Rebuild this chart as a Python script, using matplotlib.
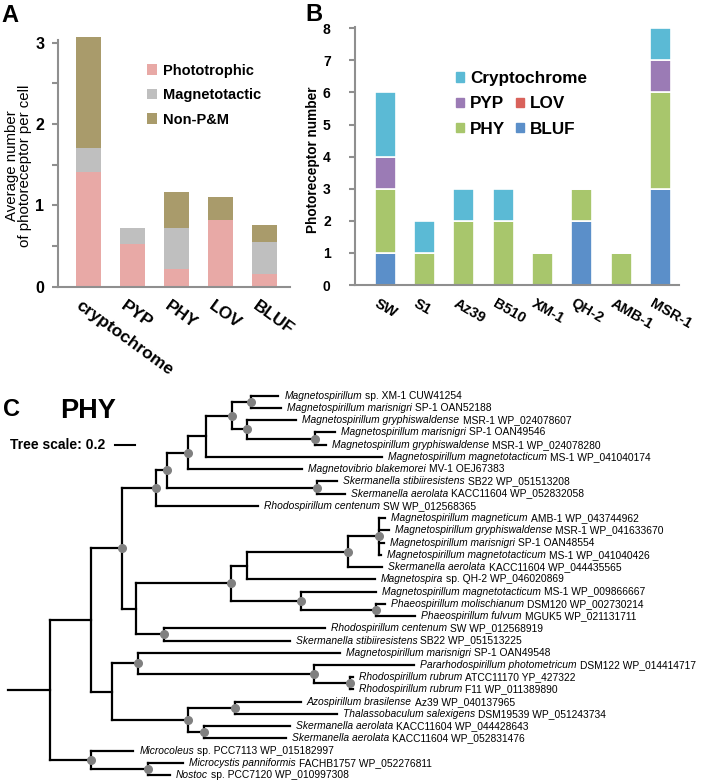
import matplotlib
matplotlib.use('Agg')
import matplotlib.pyplot as plt
import matplotlib.transforms as mtransforms
from matplotlib.patches import Patch
from matplotlib.collections import LineCollection

plt.rcParams['font.family'] = ['Liberation Sans', 'DejaVu Sans']

# ---- panel A data
categories_a = ['cryptochrome', 'PYP', 'PHY', 'LOV', 'BLUF']
groups_a = ['Phototrophic', 'Magnetotactic', 'Non-P&M']
phototrophic = [1.41, 0.525, 0.22, 0.82, 0.156]
magnetotactic = [0.30, 0.195, 0.505, 0.0, 0.40]
non_pm = [1.36, 0.0, 0.44, 0.28, 0.20]
colors_a = ['#e8a9a6', '#bfbfbf', '#a99b6b']

# ---- panel B data
strains = ['SW', 'S1', 'Az39', 'B510', 'XM-1', 'QH-2', 'AMB-1', 'MSR-1']
groups_b = ['BLUF', 'LOV', 'PHY', 'PYP', 'Cryptochrome']
bluf = [1, 0, 0, 0, 0, 2, 0, 3]
lov = [0, 0, 0, 0, 0, 0, 0, 0]
phy = [2, 1, 2, 2, 1, 1, 1, 3]
pyp = [1, 0, 0, 0, 0, 0, 0, 1]
crypto = [2, 1, 1, 1, 0, 0, 0, 1]
colors_b = ['#5b8fc9', '#d9625b', '#a8c66c', '#9b7bb5', '#5bbad5']

# ---- panel C data: PHY tree, leaves numbered top to bottom,
# '+' marks nodes drawn with a support dot, lengths in tree units
tree_newick = (
    "((((((("
    "((0:0.272,1:0.303)+:0.194,"
    "(2:0.498,(3:0.194,4:0.104)+:0.688)+:0.149)+:0.258,"
    "5:1.765):0.181,"
    "6:1.145)+:0.204,"
    "(7:0.204,8:0.281)+:1.493)+:0.113,"
    "9:1.018)+:0.339,"
    "(((((10:0.062,11:0.094,12:0.048,13:0.017)+:0.308,14:0.338)+:1.018,15:1.281):0.158,"
    "(16:0.747,(17:0.09,18:0.398)+:0.747)+:0.701)+:0.951,"
    "(19:1.606,20:1.253)+:0.286):0.135)+:0.312,"
    "((21:2.023,(22:0.995,(23:0.032,24:0.032)+:0.353)+:1.765)+:0.263,"
    "((25:0.656,26:1.018)+:0.475,(27:0.86,28:0.824)+:0.158)+:0.761):0.207):0.41,"
    "(29:0.423,(30:0.35,31:0.217)+:0.573)+:0.41):0.417;"
)
leaf_species = [
    'Magnetospirillum', 'Magnetospirillum marisnigri',
    'Magnetospirillum gryphiswaldense', 'Magnetospirillum marisnigri',
    'Magnetospirillum gryphiswaldense', 'Magnetospirillum magnetotacticum',
    'Magnetovibrio blakemorei', 'Skermanella stibiiresistens',
    'Skermanella aerolata', 'Rhodospirillum centenum',
    'Magnetospirillum magneticum', 'Magnetospirillum gryphiswaldense',
    'Magnetospirillum marisnigri', 'Magnetospirillum magnetotacticum',
    'Skermanella aerolata', 'Magnetospira',
    'Magnetospirillum magnetotacticum', 'Phaeospirillum molischianum',
    'Phaeospirillum fulvum', 'Rhodospirillum centenum',
    'Skermanella stibiiresistens', 'Magnetospirillum marisnigri',
    'Pararhodospirillum photometricum', 'Rhodospirillum rubrum',
    'Rhodospirillum rubrum', 'Azospirillum brasilense',
    'Thalassobaculum salexigens', 'Skermanella aerolata',
    'Skermanella aerolata', 'Microcoleus',
    'Microcystis panniformis', 'Nostoc',
]
leaf_ids = [
    'sp. XM-1 CUW41254', 'SP-1 OAN52188', 'MSR-1 WP_024078607',
    'SP-1 OAN49546', 'MSR-1 WP_024078280', 'MS-1 WP_041040174',
    'MV-1 OEJ67383', 'SB22 WP_051513208', 'KACC11604 WP_052832058',
    'SW WP_012568365', 'AMB-1 WP_043744962', 'MSR-1 WP_041633670',
    'SP-1 OAN48554', 'MS-1 WP_041040426', 'KACC11604 WP_044435565',
    'sp. QH-2 WP_046020869', 'MS-1 WP_009866667', 'DSM120 WP_002730214',
    'MGUK5 WP_021131711', 'SW WP_012568919', 'SB22 WP_051513225',
    'SP-1 OAN49548', 'DSM122 WP_014414717', 'ATCC11170 YP_427322',
    'F11 WP_011389890', 'Az39 WP_040137965', 'DSM19539 WP_051243734',
    'KACC11604 WP_044428643', 'KACC11604 WP_052831476',
    'sp. PCC7113 WP_015182997', 'FACHB1757 WP_052276811',
    'sp. PCC7120 WP_010997308',
]
tree_scale = 0.2

W, H = 709, 781
fig = plt.figure(figsize=(W / 100, H / 100), dpi=100)
axis_gray = '#8f8f8f'


def box(left, top, right, bottom):
    # pixel box (from top-left) -> figure fraction rect
    return [left / W, 1 - bottom / H, (right - left) / W, (bottom - top) / H]


def fxy(x, y):
    return (x / W, 1 - y / H)


def style_axis(ax):
    for s in ['top', 'right']:
        ax.spines[s].set_visible(False)
    for s in ['left', 'bottom']:
        ax.spines[s].set_color(axis_gray)
        ax.spines[s].set_linewidth(1.5)


def shift_labels(labels, dx_px, dy_px=0):
    off = mtransforms.ScaledTranslation(dx_px / 100, dy_px / 100, fig.dpi_scale_trans)
    for lbl in labels:
        lbl.set_transform(lbl.get_transform() + off)


# ================= A
ax_a = fig.add_axes(box(58, 40, 290, 286.7))
xa = list(range(len(categories_a)))
bottom = [0] * len(xa)
for vals, col, lab in zip([phototrophic, magnetotactic, non_pm], colors_a, groups_a):
    ax_a.bar(xa, vals, 0.57, bottom=bottom, color=col, label=lab, clip_on=False)
    bottom = [b + v for b, v in zip(bottom, vals)]
ax_a.set_xlim(-0.69, 4.57)
ax_a.set_ylim(0, 3.035)
style_axis(ax_a)
ax_a.set_yticks([0, 1, 2, 3])
ax_a.set_yticks([0.5, 1.5, 2.5], minor=True)
ax_a.tick_params(axis='y', which='both', length=4, width=1.5, color=axis_gray, pad=6,
                 labelsize=11.5)
for lbl in ax_a.get_yticklabels():
    lbl.set_fontweight('bold')
ax_a.set_xticks(xa)
ax_a.set_xticklabels(categories_a, rotation=-36, ha='left', va='top', rotation_mode='anchor',
                     fontsize=12.5, fontweight='bold')
ax_a.tick_params(axis='x', length=0, pad=8)
shift_labels(ax_a.get_xticklabels(), -6)
ax_a.set_ylabel('Average number\nof photoreceptor per cell', fontsize=10.8, linespacing=0.95,
                va='center')
ax_a.yaxis.set_label_coords((18.3 - 58) / 232, (286.7 - 166) / 246.7)
ax_a.legend(loc='upper left', bbox_to_anchor=fxy(147, 63.5), bbox_transform=fig.transFigure,
            frameon=False, prop=dict(weight='bold', size=10.5), handlelength=0.7,
            handleheight=0.7, handletextpad=0.42, labelspacing=0.72, borderpad=0,
            borderaxespad=0)

# ================= B
ax_b = fig.add_axes(box(355, 26.7, 679.3, 285))
xb = list(range(len(strains)))
bottom = [0] * len(xb)
for vals, col, lab in zip([bluf, lov, phy, pyp, crypto], colors_b, groups_b):
    ax_b.bar(xb, vals, 0.53, bottom=bottom, color=col, edgecolor='white', linewidth=1.2,
             label=lab, clip_on=False)
    bottom = [b + v for b, v in zip(bottom, vals)]
ax_b.set_xlim(-0.77, 7.48)
ax_b.set_ylim(0, 8.05)
style_axis(ax_b)
ax_b.set_yticks(range(9))
ax_b.tick_params(axis='y', length=4, width=1.5, color=axis_gray, pad=13.5, labelsize=10)
for lbl in ax_b.get_yticklabels():
    lbl.set_fontweight('bold')
ax_b.set_xticks(xb)
ax_b.set_xticklabels(strains, rotation=-30, ha='left', va='top', rotation_mode='anchor',
                     fontsize=10.5, fontweight='bold')
ax_b.tick_params(axis='x', length=0, pad=8)
shift_labels(ax_b.get_xticklabels(), -6)
ax_b.set_ylabel('Photoreceptor number', fontsize=9.8, fontweight='bold', va='center')
ax_b.yaxis.set_label_coords((313 - 355) / 324.3, (285 - 160) / 258.3)

patch = {g: Patch(color=c) for g, c in zip(groups_b, colors_b)}
leg_kw = dict(bbox_transform=fig.transFigure, loc='upper left', frameon=False,
              prop=dict(weight='bold', size=12.3), handlelength=0.45, handleheight=0.45,
              handletextpad=0.38, labelspacing=0.6, borderpad=0, borderaxespad=0)
col1 = ['Cryptochrome', 'PYP', 'PHY']
col2 = ['LOV', 'BLUF']
leg1 = ax_b.legend([patch[g] for g in col1], col1, bbox_to_anchor=fxy(456, 71), **leg_kw)
ax_b.add_artist(leg1)
ax_b.legend([patch[g] for g in col2], col2, bbox_to_anchor=fxy(516, 96.5), **leg_kw)

fig.text(*fxy(1.7, 21.7), 'A', fontsize=17, fontweight='bold', va='baseline')
fig.text(*fxy(305, 20.7), 'B', fontsize=17, fontweight='bold', va='baseline')


# ================= C
def parse_newick(s):
    pos = 0

    def node():
        nonlocal pos
        n = {'children': [], 'name': None, 'len': 0.0, 'support': False}
        if s[pos] == '(':
            pos += 1
            while True:
                n['children'].append(node())
                if s[pos] == ',':
                    pos += 1
                    continue
                pos += 1
                break
            if s[pos] == '+':
                n['support'] = True
                pos += 1
        else:
            j = pos
            while s[pos] not in ':,);':
                pos += 1
            n['name'] = int(s[j:pos])
        if s[pos] == ':':
            pos += 1
            j = pos
            while s[pos] not in ',);':
                pos += 1
            n['len'] = float(s[j:pos])
        return n

    return node()


def layout(n, x0):
    n['x'] = x0 + n['len']
    if n['name'] is not None:
        n['y'] = n['name']
    else:
        for c in n['children']:
            layout(c, n['x'])
        n['y'] = (n['children'][0]['y'] + n['children'][-1]['y']) / 2


ax_c = fig.add_axes(box(0, 380, 709, 781))
ax_c.set_xlim(0, W / 100)
ax_c.set_ylim((781 - 395.7) / 12.24, (380 - 395.7) / 12.24)
ax_c.axis('off')

tree = parse_newick(tree_newick)
origin = 0.083
layout(tree, origin)

segs, dots, leaves = [], [], []
segs.append([(origin, tree['y']), (tree['x'], tree['y'])])
stack = [tree]
while stack:
    n = stack.pop()
    if n['name'] is not None:
        leaves.append(n)
        continue
    segs.append([(n['x'], n['children'][0]['y']), (n['x'], n['children'][-1]['y'])])
    for c in n['children']:
        segs.append([(n['x'], c['y']), (c['x'], c['y'])])
        stack.append(c)
    if n['support']:
        dots.append((n['x'], n['y']))

ax_c.add_collection(LineCollection(segs, colors='black', linewidths=1.6,
                                   capstyle='projecting'))
ax_c.plot([d[0] for d in dots], [d[1] for d in dots], 'o', color='#808080', ms=5.5,
          zorder=3)

for lf in leaves:
    i = lf['name']
    t = ax_c.text(lf['x'] + 0.06, i, leaf_species[i], style='italic', fontsize=7.4,
                  va='center')
    ax_c.annotate(leaf_ids[i], xy=(1, 0.5), xycoords=t, xytext=(2.2, 0),
                  textcoords='offset points', fontsize=7.4, va='center')

# scale bar
sy = (445 - 395.7) / 12.24
ax_c.plot([1.15, 1.15 + tree_scale], [sy, sy], color='black', lw=1.5)
ax_c.text(1.05, sy, f'Tree scale: {tree_scale}', fontsize=10, fontweight='bold',
          ha='right', va='center')

fig.text(*fxy(2.7, 416), 'C', fontsize=17, fontweight='bold', va='baseline')
fig.text(*fxy(60, 417.7), 'PHY', fontsize=19.5, fontweight='bold', va='baseline')

fig.savefig('out.png', dpi=100)
